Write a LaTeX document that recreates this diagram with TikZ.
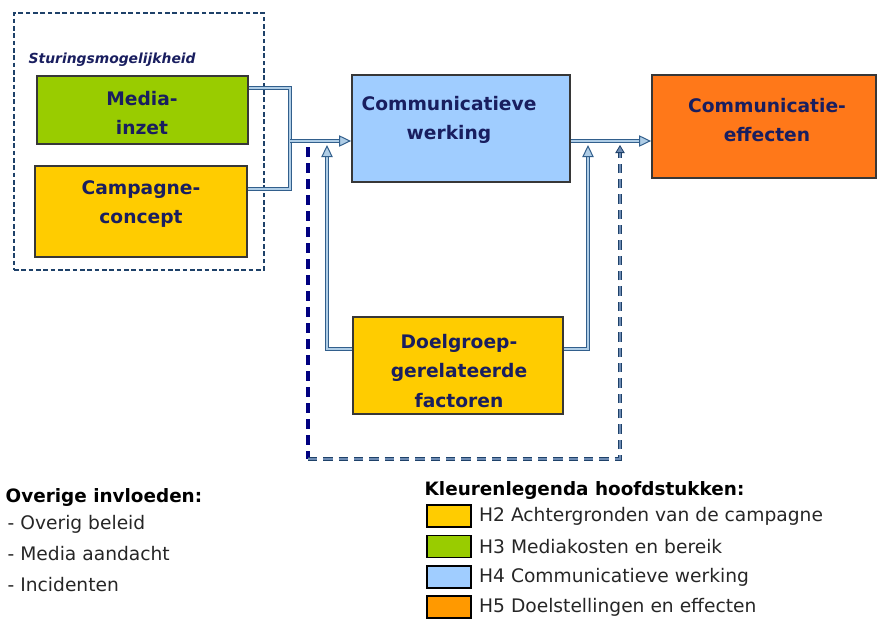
\documentclass[tikz,border=0pt]{standalone}
\usepackage{fontspec}
\setmainfont{DejaVu Sans}
\usetikzlibrary{arrows.meta, positioning}

\definecolor{txtnavy}{RGB}{25,30,95}
\definecolor{boxline}{RGB}{55,55,55}
\definecolor{hgreen}{RGB}{153,204,0}
\definecolor{hyellow}{RGB}{255,204,0}
\definecolor{hblue}{RGB}{160,205,255}
\definecolor{horange}{RGB}{255,153,0}
\definecolor{effcolor}{RGB}{255,120,25}
\definecolor{pipeout}{RGB}{50,95,140}
\definecolor{pipein}{RGB}{175,205,230}
\definecolor{framecol}{RGB}{30,65,105}
\definecolor{dashnavy}{RGB}{0,0,128}
\definecolor{dashgrey}{RGB}{110,140,180}

\begin{document}
\begin{tikzpicture}[x=0.75pt, y=-0.75pt,
    box/.style={draw=boxline, line width=1.4pt, rectangle, inner sep=0pt},
    boxtext/.style={text=txtnavy, font=\fontsize{14}{22}\selectfont\bfseries, align=center},
    pipe/.style={draw=pipeout, line width=0.75pt, double=pipein, double distance=1.5pt},
    pipearrow/.style={pipe, -{Triangle[length=9pt, width=8.5pt, fill=pipein]}},
    legbox/.style={draw=black, line width=1.2pt, minimum width=33pt, minimum height=16.5pt, inner sep=0pt},
    legtext/.style={font=\fontsize{14}{16}\selectfont, text=black!85, anchor=west}]

  \useasboundingbox (0,0) rectangle (878,618);

  % frame round the two steering boxes
  \node[draw=framecol, line width=1.6pt, dash pattern=on 3.5pt off 2pt,
        minimum width=187.5pt, minimum height=192.75pt, inner sep=0pt] (sturing) at (139,141.5) {};
  \node[font=\fontsize{10.4}{12}\selectfont\bfseries\itshape, text=txtnavy, anchor=west]
        (sturinglabel) at (24,60) {Sturingsmogelijkheid};

  % boxes
  \node[box, fill=hgreen, minimum width=158.25pt, minimum height=51pt] (media) at (142.5,110) {};
  \node[boxtext] (medialabel) at (142,113) {Media-\\inzet};
  \node[box, fill=hyellow, minimum width=159pt, minimum height=68.25pt] (campagne) at (141,211.5) {};
  \node[boxtext] (campagnelabel) at (141,204) {Campagne-\\concept};
  \node[box, fill=hblue, minimum width=163.5pt, minimum height=80.25pt] (werking) at (461,128.5) {};
  \node[boxtext] (werkinglabel) at (449,120) {Communicatieve\\werking};
  \node[box, fill=effcolor, minimum width=168pt, minimum height=77.25pt] (effecten) at (764,126.5) {};
  \node[boxtext] (effectenlabel) at (767,120) {Communicatie-\\effecten};
  \node[box, fill=hyellow, minimum width=157.5pt, minimum height=72.75pt] (doelgroep) at (458,365.5) {};
  \node[boxtext] (doelgroeplabel) at (459,371) {Doelgroep-\\gerelateerde\\factoren};

  % connectors
  \coordinate (join) at (290,141);
  \coordinate (fbleft) at (327,145);
  \coordinate (fbright) at (588,145);
  \draw[pipe] (media.east) ++(0,-22) -| (join);
  \draw[pipe] (campagne.east) ++(0,-22.5) -| (join);
  \draw[pipearrow] (join) -- (join -| werking.west);
  \draw[pipearrow] (doelgroep.west) ++(0,-16.5) -| (fbleft);
  \draw[pipearrow] (doelgroep.east) ++(0,-16.5) -| (fbright);
  \draw[pipearrow] (werking.east) ++(0,12.5) coordinate (wout) -- (wout -| effecten.west);

  % other influences (dashed)
  \coordinate (dashtop) at (308,147);
  \coordinate (dashbot) at (308,459);
  \coordinate (dashend) at (620,145);
  \draw[dashnavy, line width=2.3pt, dash pattern=on 7.5pt off 4.5pt] (dashtop) -- (dashbot);
  \draw[draw=framecol, line width=0.6pt, double=dashgrey, double distance=1.2pt,
        dash pattern=on 7pt off 4.5pt,
        -{Triangle[length=6pt, width=7pt, fill=dashgrey]}] (dashbot) -- ++(312,0) -- (dashend);

  % text below
  \node[font=\fontsize{13.8}{16}\selectfont\bfseries, anchor=west] (overig) at (1,497) {Overige invloeden:};
  \node[legtext] (beleid) at (3,524) {- Overig beleid};
  \node[legtext] (aandacht) at (3,554) {- Media aandacht};
  \node[legtext] (incident) at (3,585) {- Incidenten};

  % legend
  \node[font=\fontsize{13.8}{16}\selectfont\bfseries, anchor=west] (legtitle) at (420,490) {Kleurenlegenda hoofdstukken:};
  \node[legbox, fill=hyellow] (leg2) at (449,516) {};
  \node[legbox, fill=hgreen] (leg3) at (449,546.5) {};
  \node[legbox, fill=hblue] (leg4) at (449,577) {};
  \node[legbox, fill=horange] (leg5) at (449,607) {};
  \node[legtext, right=2pt of leg2] (leg2text) {H2 Achtergronden van de campagne};
  \node[legtext, right=2pt of leg3] (leg3text) {H3 Mediakosten en bereik};
  \node[legtext, right=2pt of leg4] (leg4text) {H4 Communicatieve werking};
  \node[legtext, right=2pt of leg5] (leg5text) {H5 Doelstellingen en effecten};
\end{tikzpicture}
\end{document}
